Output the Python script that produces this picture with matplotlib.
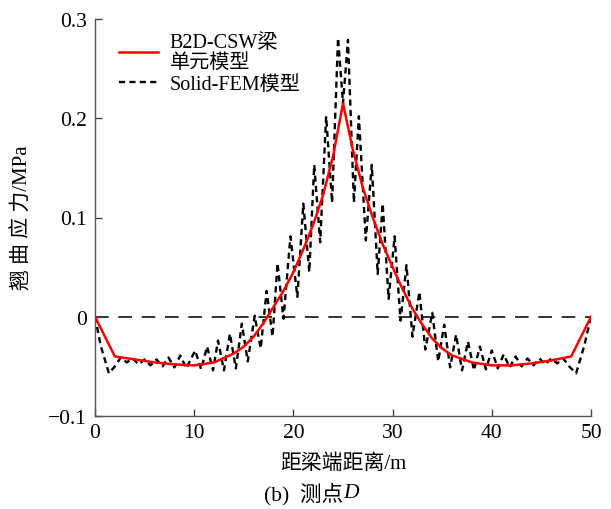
import matplotlib
matplotlib.use("Agg")
import matplotlib.pyplot as plt
from matplotlib.ticker import FixedLocator, FixedFormatter

plt.rcParams['font.family'] = ['Liberation Serif', 'Noto Sans CJK SC']
plt.rcParams['axes.unicode_minus'] = True

# B2D-CSW beam element model
x_b2d = [0, 2, 4, 6, 8, 10, 12, 14, 15, 16, 17, 18, 19, 20, 21, 22, 23, 24, 25,
         26, 27, 28, 29, 30, 31, 32, 33, 34, 35, 36, 38, 40, 42, 44, 46, 48, 50]
y_b2d = [0.0, -0.040, -0.043, -0.046, -0.048, -0.049, -0.046, -0.037, -0.030,
         -0.020, -0.006, 0.010, 0.026, 0.045, 0.068, 0.093, 0.123, 0.162, 0.215,
         0.168, 0.130, 0.100, 0.073, 0.050, 0.028, 0.008, -0.008, -0.022, -0.032,
         -0.039, -0.046, -0.049, -0.049, -0.047, -0.044, -0.040, 0.0]

# Solid FEM model
x_fem = [0.0, 0.6, 1.4, 2.0, 2.6, 3.2, 3.8, 4.4, 5.0, 5.6, 6.2, 6.8, 7.4, 8.0,
         8.6, 9.2, 10.1, 10.7, 11.3, 11.9, 12.4, 13.0, 13.6, 14.2, 14.8, 15.4,
         16.1, 16.7, 17.3, 17.9, 18.4, 19.0, 19.7, 20.4, 21.0, 21.6, 22.1, 22.7,
         23.3, 23.9, 24.5, 25.0, 25.5, 26.1, 26.6, 27.3, 27.9, 28.5, 29.0, 29.6,
         30.2, 30.8, 31.4, 32.0, 32.7, 33.3, 34.0, 34.6, 35.2, 35.8, 36.4, 37.0,
         37.6, 38.2, 38.8, 39.4, 40.0, 40.6, 41.2, 41.8, 42.4, 43.0, 43.6, 44.2,
         44.8, 45.4, 46.0, 46.6, 47.2, 47.8, 48.5, 49.3, 50.0]
y_fem = [0.0, -0.030, -0.057, -0.050, -0.041, -0.046, -0.042, -0.048, -0.043,
         -0.049, -0.043, -0.050, -0.041, -0.051, -0.039, -0.052, -0.034, -0.053,
         -0.030, -0.054, -0.024, -0.054, -0.017, -0.052, -0.007, -0.045, 0.001,
         -0.032, 0.026, -0.020, 0.054, -0.002, 0.081, 0.020, 0.114, 0.045, 0.153,
         0.075, 0.202, 0.115, 0.281, 0.215, 0.279, 0.115, 0.202, 0.077, 0.153,
         0.043, 0.114, 0.018, 0.081, -0.004, 0.052, -0.020, 0.025, -0.033, 0.004,
         -0.045, -0.008, -0.051, -0.018, -0.054, -0.025, -0.054, -0.030, -0.053,
         -0.034, -0.052, -0.038, -0.051, -0.040, -0.050, -0.042, -0.049, -0.042,
         -0.048, -0.042, -0.047, -0.042, -0.050, -0.057, -0.030, 0.0]

x_ticks = [0, 10, 20, 30, 40, 50]
y_ticks = [-0.1, 0.0, 0.1, 0.2, 0.3]
y_tick_labels = ['\u22120.1', '0', '0.1', '0.2', '0.3']

W, H = 611, 510
fig = plt.figure(figsize=(W / 100, H / 100), dpi=100)
ax = fig.add_axes([95 / W, 1 - 417 / H, (591 - 95) / W, (417 - 20) / H])

ax.plot([0, 50], [0, 0], color='#333333', lw=1.4, linestyle=(0, (7, 5)), zorder=1)
ax.plot(x_b2d, y_b2d, color='#ff0000', lw=1.8, label='B2D-CSW梁\n单元模型', zorder=3)
ax.plot(x_fem, y_fem, color='black', lw=1.7, linestyle=(0, (2.6, 1.8)),
        label='Solid-FEM模型', zorder=2)

ax.set_xlim(0, 50)
ax.set_ylim(-0.1, 0.3)
ax.xaxis.set_major_locator(FixedLocator(x_ticks))
ax.yaxis.set_major_locator(FixedLocator(y_ticks))
ax.yaxis.set_major_formatter(FixedFormatter(y_tick_labels))
ax.tick_params(direction='in', length=5, width=1, colors='#444444',
               labelcolor='black', labelsize=15.5)
ax.tick_params(axis='x', pad=5)
ax.tick_params(axis='y', pad=6)

for side in ('top', 'right'):
    ax.spines[side].set_visible(False)
for side in ('left', 'bottom'):
    ax.spines[side].set_color('#555555')
    ax.spines[side].set_linewidth(1.0)

fig.text(343 / W, 1 - 464 / H, '距梁端距离/m', ha='center', va='center', fontsize=15)
fig.text(22 / W, 1 - 218 / H, '翘 曲 应 力/MPa', ha='center', va='center',
         fontsize=15, rotation=90)

leg = ax.legend(loc='upper left', bbox_to_anchor=(0.012, 1.01), frameon=False,
                fontsize=14.5, handlelength=1.95, handletextpad=0.55,
                labelspacing=0.15)
for t in leg.get_texts():
    t.set_linespacing(1.05)

fig.text(343 / W, 1 - 494 / H, '(b)  测点', ha='right', va='center', fontsize=15.5)
fig.text(343 / W, 1 - 494 / H, 'D', ha='left', va='center', fontsize=15.5,
         style='italic')

fig.savefig('out.png', dpi=100)
